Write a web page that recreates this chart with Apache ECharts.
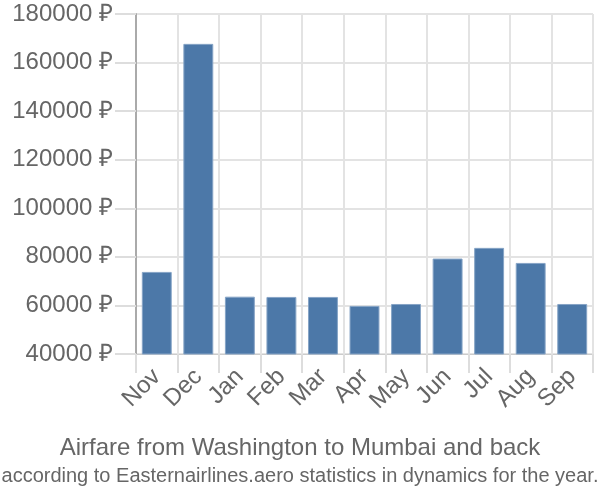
<!DOCTYPE html>
<html>
<head>
<meta charset="utf-8">
<script src="https://cdn.jsdelivr.net/npm/echarts@6/dist/echarts.min.js"></script>
<style>
  html, body { margin: 0; padding: 0; background: #fff; }
  #chart { width: 600px; height: 500px; }
</style>
</head>
<body>
<div id="chart"></div>
<script>
// months, Nov..Sep
const months = ['Nov', 'Dec', 'Jan', 'Feb', 'Mar', 'Apr', 'May', 'Jun', 'Jul', 'Aug', 'Sep']
// airfare in rubles
const fares = [73800, 167700, 63600, 63500, 63500, 59800, 60600, 79300, 83700, 77500, 60600]
const yTicks = [40000, 60000, 80000, 100000, 120000, 140000, 160000, 180000]

const chart = echarts.init(document.getElementById('chart'))
chart.setOption({
  backgroundColor: '#fff',
  animation: false,
  title: {
    text: 'Airfare from Washington to Mumbai and back',
    subtext: 'according to Easternairlines.aero statistics in dynamics for the year.',
    left: 'center',
    top: 431,
    itemGap: 6,
    textStyle: { color: '#666', fontSize: 24, fontWeight: 'normal', fontFamily: 'Liberation Sans' },
    subtextStyle: { color: '#666', fontSize: 20, fontFamily: 'Liberation Sans' }
  },
  grid: { left: 136, right: 7, top: 14, bottom: 146 },
  xAxis: {
    type: 'category',
    data: months,
    boundaryGap: true,
    axisLine: { lineStyle: { color: '#ccc', width: 1 } },
    axisTick: { show: true, length: 19, lineStyle: { color: '#ddd', width: 2 } },
    splitLine: { show: true, interval: 0, lineStyle: { color: '#e3e3e3', width: 2 } },
    axisLabel: {
      rotate: 45,
      interval: 0,
      margin: 19,
      color: '#666',
      fontSize: 24,
      fontFamily: 'Liberation Sans'
    }
  },
  yAxis: {
    type: 'value',
    min: yTicks[0],
    max: yTicks[yTicks.length - 1],
    interval: 20000,
    axisLine: { show: true, lineStyle: { color: '#aaa', width: 2 } },
    axisTick: { show: true, length: 21, lineStyle: { color: '#ddd', width: 2 } },
    splitLine: { show: true, lineStyle: { color: '#e3e3e3', width: 2 } },
    axisLabel: {
      margin: 23,
      color: '#666',
      fontSize: 24,
      fontFamily: 'Liberation Sans',
      formatter: v => v + ' ₽'
    }
  },
  series: [
    {
      type: 'bar',
      data: fares,
      barCategoryGap: '28%',
      itemStyle: { color: '#4c78a8', borderColor: '#86a4c6', borderWidth: 1 }
    }
  ]
})
</script>
</body>
</html>
